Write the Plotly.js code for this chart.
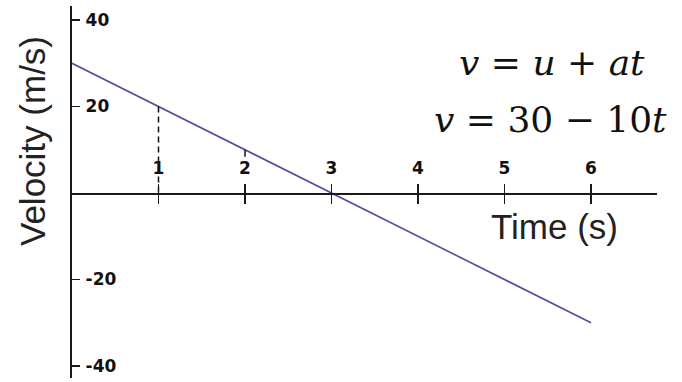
<!DOCTYPE html>
<html>
<head>
<meta charset="utf-8">
<script src="https://cdn.plot.ly/plotly-3.0.1.min.js"></script>
<style>html,body{margin:0;padding:0;background:#fff;}#chart{width:682px;height:382px;}</style>
</head>
<body>
<div id="chart"></div>
<script>
// ---- data ----
const timeS = [0, 1, 2, 3, 4, 5, 6];
const velocity = [30, 20, 10, 0, -10, -20, -30];
const dropT = [1, 1];
const dropV = [20, 0];
const markT = [2, 2];
const markV = [10, 8.4];
const xTickVals = [1, 2, 3, 4, 5, 6];
const xTickText = ['1', '2', '3', '4', '5', '6'];
const yTickVals = [-40, -20, 20, 40];
const yTickText = ['-40', '-20', '20', '40'];
const xRange = [0, 6.763];
const yRange = [-42.77, 43.24];

const zeroPos = (0 - yRange[0]) / (yRange[1] - yRange[0]);
const axisColor = '#1a1a1a';

const traces = [
  {x: timeS, y: velocity, type: 'scatter', mode: 'lines',
   line: {color: '#5a4a9e', width: 1.6}, hoverinfo: 'skip'},
  {x: dropT, y: dropV, type: 'scatter', mode: 'lines',
   line: {color: '#111', width: 1.5, dash: '6px,4px'}, hoverinfo: 'skip'},
  {x: markT, y: markV, type: 'scatter', mode: 'lines',
   line: {color: '#111', width: 1.5}, hoverinfo: 'skip'},
  {x: [xRange[0]], y: [0], xaxis: 'x2', type: 'scatter', mode: 'markers',
   marker: {opacity: 0}, hoverinfo: 'skip'}
];

const layout = {
  width: 682, height: 382,
  margin: {l: 72, r: 25, t: 6, b: 4, pad: 0},
  paper_bgcolor: '#ffffff', plot_bgcolor: '#ffffff',
  showlegend: false,
  xaxis: {
    range: xRange, side: 'top', anchor: 'free', position: zeroPos,
    showgrid: false, zeroline: false,
    showline: true, linecolor: axisColor, linewidth: 1.6,
    ticks: 'outside', ticklen: 9, tickwidth: 1.6, tickcolor: axisColor,
    tickvals: xTickVals, ticktext: xTickText,
    tickfont: {family: 'DejaVu Sans', size: 17, color: '#111', weight: 'bold'},
    ticklabelstandoff: 3
  },
  xaxis2: {
    range: xRange, overlaying: 'x', side: 'bottom', anchor: 'free', position: zeroPos,
    showgrid: false, zeroline: false, showline: false,
    ticks: 'outside', ticklen: 10, tickwidth: 1.6, tickcolor: axisColor,
    tickvals: xTickVals, showticklabels: false
  },
  yaxis: {
    range: yRange, showgrid: false, zeroline: false,
    showline: true, linecolor: axisColor, linewidth: 1.6,
    ticks: 'inside', ticklen: 8, tickwidth: 1.6, tickcolor: axisColor,
    tickvals: yTickVals, ticktext: yTickText,
    ticklabelposition: 'inside', ticklabelstandoff: 6,
    tickfont: {family: 'DejaVu Sans', size: 17, color: '#111', weight: 'bold'}
  },
  annotations: [
    {xref: 'paper', yref: 'paper', x: -0.0684, y: 0.637, xanchor: 'center', yanchor: 'middle',
     text: 'Velocity (m/s)', textangle: -90, showarrow: false,
     font: {family: 'Liberation Sans, Arial, sans-serif', size: 35, color: '#222'}},
    {xref: 'paper', yref: 'paper', x: 0.8256, y: 0.406, xanchor: 'center', yanchor: 'middle',
     text: 'Time (s)', showarrow: false,
     font: {family: 'Liberation Sans, Arial, sans-serif', size: 35, color: '#222'}},
    {xref: 'paper', yref: 'paper', x: 0.8205, y: 0.849, xanchor: 'center', yanchor: 'middle',
     text: '<i>v</i>\u00a0=\u00a0<i>u</i>\u00a0+\u00a0<i>at</i>', showarrow: false,
     font: {family: 'DejaVu Serif, serif', size: 36, color: '#111'}},
    {xref: 'paper', yref: 'paper', x: 0.8171, y: 0.694, xanchor: 'center', yanchor: 'middle',
     text: '<i>v</i>\u00a0=\u00a030\u00a0\u2212\u00a010<i>t</i>', showarrow: false,
     font: {family: 'DejaVu Serif, serif', size: 36, color: '#111'}}
  ]
};

Plotly.newPlot('chart', traces, layout, {displayModeBar: false, staticPlot: true});
</script>
</body>
</html>
